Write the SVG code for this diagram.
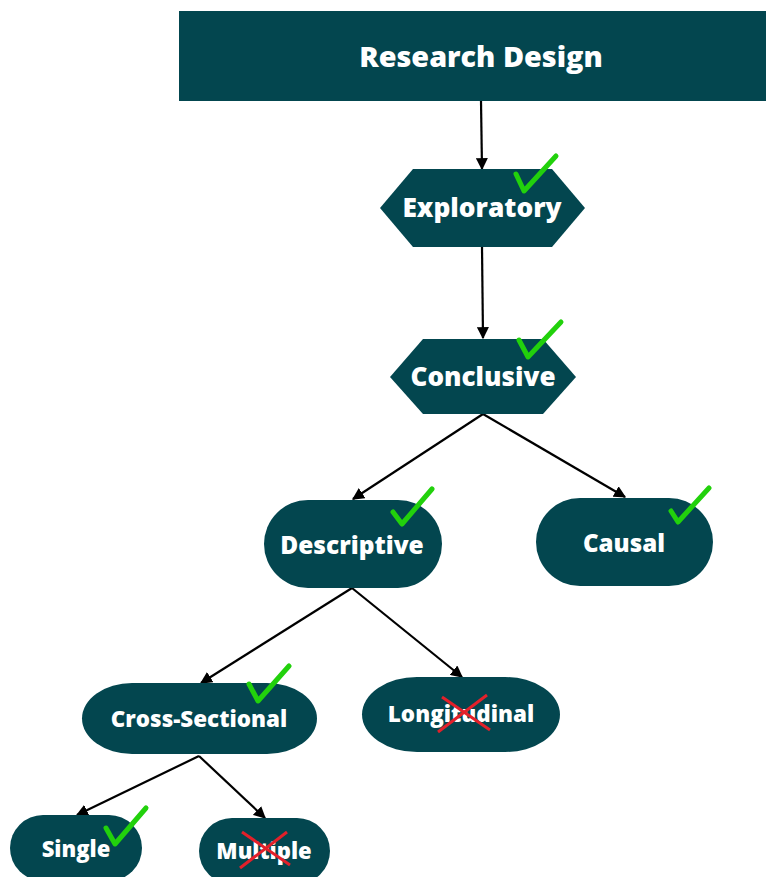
<svg xmlns="http://www.w3.org/2000/svg" width="766" height="877" viewBox="0 0 766 877">
<style>
.n{fill:#03464f}
.t{font-family:"Open Sans","Liberation Sans",sans-serif;font-weight:800;fill:#fff;text-anchor:middle;dominant-baseline:central}
.c{stroke:#000;stroke-width:2.2;fill:none;marker-end:url(#ah)}
.ok{stroke:#22d10c;stroke-width:5;fill:none;stroke-linecap:round;stroke-linejoin:round}
.no{stroke:#e3202a;stroke-width:3;fill:none}
</style>
<defs>
<marker id="ah" viewBox="0 0 10 10" refX="9" refY="5" markerWidth="5.5" markerHeight="5.5" orient="auto" markerUnits="strokeWidth">
<path d="M0,0 L10,5 L0,10 z" fill="#000"/>
</marker>
</defs>
<rect width="766" height="877" fill="#fff"/>
<g id="connectors">
<line class="c" x1="481" y1="101" x2="482" y2="169"/>
<line class="c" x1="482" y1="247" x2="483" y2="338"/>
<line class="c" x1="483" y1="414" x2="353" y2="499"/>
<line class="c" x1="483" y1="414" x2="625" y2="497"/>
<line class="c" x1="352" y1="588" x2="201" y2="683"/>
<line class="c" x1="352" y1="588" x2="462" y2="677"/>
<line class="c" x1="199" y1="756" x2="77" y2="815"/>
<line class="c" x1="199" y1="756" x2="265" y2="818"/>
</g>
<g id="research-design">
<rect class="n" x="179" y="11" width="587" height="90"/>
<text class="t" x="481" y="55" font-size="28.8">Research Design</text>
</g>
<g id="exploratory">
<polygon class="n" points="380,208 413,169 552,169 585,208 552,247 413,247"/>
<text class="t" x="482" y="207" font-size="26.3">Exploratory</text>
<polyline class="ok" points="516,174 524,191 556,156"/>
</g>
<g id="conclusive">
<polygon class="n" points="390,377 423,339 543,339 576,377 543,414 423,414"/>
<text class="t" x="483" y="376" font-size="26.1">Conclusive</text>
<polyline class="ok" points="519,340 528,357 561,322"/>
</g>
<g id="descriptive">
<rect class="n" x="264" y="500" width="178" height="88" rx="44"/>
<text class="t" x="352" y="544" font-size="24.5">Descriptive</text>
<polyline class="ok" points="393,512 402,524 432,489"/>
</g>
<g id="causal">
<rect class="n" x="536" y="498" width="177" height="88" rx="44"/>
<text class="t" x="624" y="542" font-size="24.1">Causal</text>
<polyline class="ok" points="671,511 678,522 709,488"/>
</g>
<g id="cross-sectional">
<rect class="n" x="82" y="683" width="235" height="71" rx="50" ry="35.5"/>
<text class="t" x="199" y="718" font-size="22.4">Cross-Sectional</text>
<polyline class="ok" points="249,684 258,701 289,666"/>
</g>
<g id="longitudinal">
<rect class="n" x="362" y="677" width="198" height="75" rx="55" ry="37.5"/>
<text class="t" x="461" y="713" font-size="22.4">Longitudinal</text>
<line class="no" x1="442" y1="697" x2="490" y2="730"/>
<line class="no" x1="487" y1="695" x2="438" y2="732"/>
</g>
<g id="single">
<rect class="n" x="10" y="815" width="132" height="66" rx="33"/>
<text class="t" x="76" y="848" font-size="22">Single</text>
<polyline class="ok" points="106,828 115,844 146,808"/>
</g>
<g id="multiple">
<rect class="n" x="199" y="818" width="131" height="66" rx="33"/>
<text class="t" x="264" y="850" font-size="22">Multiple</text>
<line class="no" x1="242" y1="832" x2="290" y2="865"/>
<line class="no" x1="287" y1="832" x2="240" y2="868"/>
</g>
</svg>
